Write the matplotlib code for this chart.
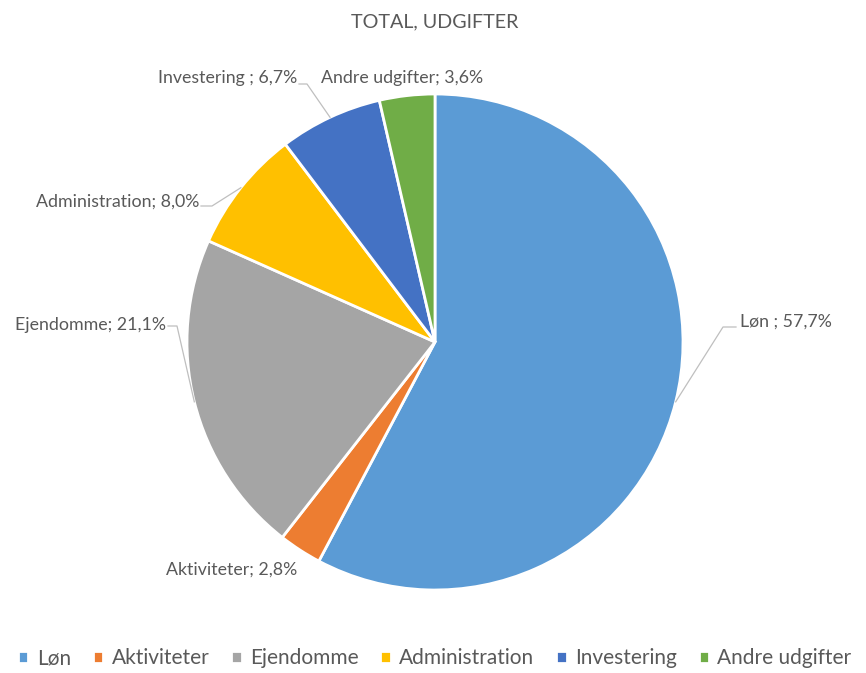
import numpy as np
import matplotlib
matplotlib.use("Agg")
import matplotlib.pyplot as plt

plt.rcParams["font.family"] = ["Lato", "DejaVu Sans"]

# data
categories = ["Løn", "Aktiviteter", "Ejendomme", "Administration", "Investering", "Andre udgifter"]
values = [57.7, 2.8, 21.1, 8.0, 6.7, 3.6]
label_names = ["Løn ", "Aktiviteter", "Ejendomme", "Administration", "Investering ", "Andre udgifter"]
colors = ["#5B9BD5", "#ED7D31", "#A5A5A5", "#FFC000", "#4472C4", "#70AD47"]
title = "TOTAL, UDGIFTER"

W, H = 866, 673
cx, cy, R = 435, H - 342, 248

# label layout in pixels (x, y from top, ha), elbow of the leader line (None = no line)
label_pos = [
    (740, 322, "left", (723, 327), (736, 327)),
    (232, 570, "center", None, None),
    (166, 325, "right", (177, 326), (168, 326)),
    (199, 202, "right", (212, 206), (201, 206)),
    (297, 78, "right", (307, 84), (299, 84)),
    (321, 78, "left", None, None),
]


def fmt(v):
    return ("%.1f%%" % v).replace(".", ",")


def main():
    fig = plt.figure(figsize=(W / 100, H / 100), dpi=100)
    ax = fig.add_axes([0, 0, 1, 1])

    wedges, _ = ax.pie(values, colors=colors, startangle=90, counterclock=False,
                       center=(cx, cy), radius=R, frame=True,
                       wedgeprops=dict(edgecolor="white", linewidth=2))
    ax.set_xlim(0, W)
    ax.set_ylim(0, H)
    ax.set_aspect("auto")
    ax.axis("off")

    for w, name, v, (tx, ty, ha, elbow, end) in zip(wedges, label_names, values, label_pos):
        ang = np.deg2rad((w.theta1 + w.theta2) / 2)
        ex, ey = cx + R * np.cos(ang), cy + R * np.sin(ang)
        if elbow is not None:
            ax.plot([ex, elbow[0], end[0]], [ey, H - elbow[1], H - end[1]],
                    color="#BFBFBF", lw=0.9, zorder=1)
        ax.text(tx, H - ty, "%s; %s" % (name, fmt(v)), ha=ha, va="center",
                fontsize=12.8, color="#595959")

    ax.text(W / 2 + 2, H - 22, title, ha="center", va="center", fontsize=14.2, color="#595959")

    fig.legend(wedges, categories, loc="center", bbox_to_anchor=(0.502, 0.022),
               ncol=6, frameon=False, fontsize=15, handlelength=0.5, handleheight=0.5,
               handletextpad=0.4, columnspacing=1.05, labelcolor="#595959",
               borderpad=0, borderaxespad=0)
    fig.savefig("out.png", dpi=100)


if __name__ == "__main__":
    main()
